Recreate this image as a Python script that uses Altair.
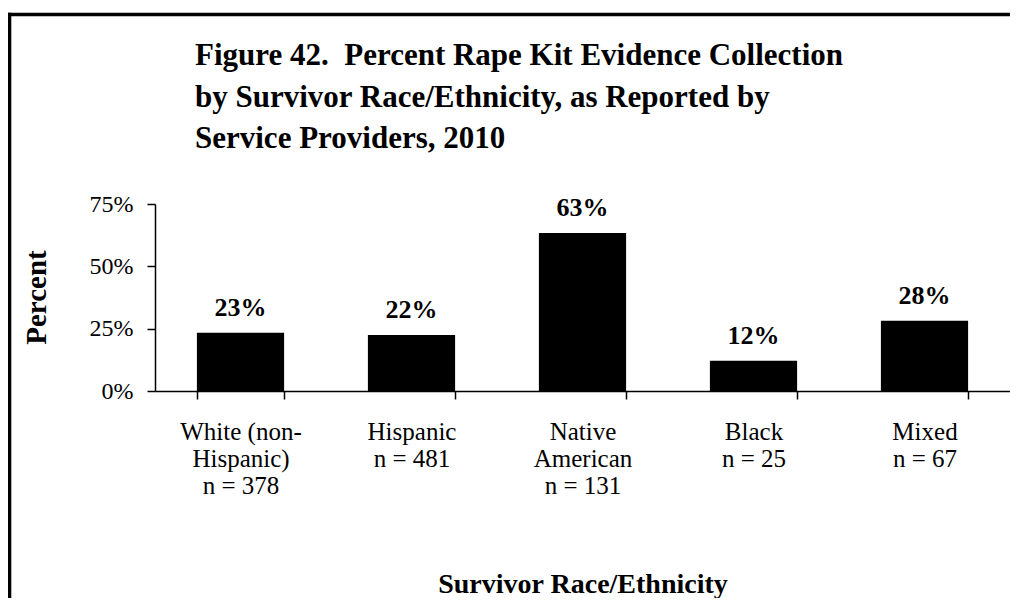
import altair as alt
import pandas as pd

categories = ["White (non-|Hispanic)|n = 378", "Hispanic|n = 481", "Native|American|n = 131", "Black|n = 25", "Mixed|n = 67"]
values = [23.4, 22.5, 63.4, 12.1, 28.2]
labels = ["23%", "22%", "63%", "12%", "28%"]
y_ticks = [0, 25, 50, 75]
title_lines = ["Figure 42.\u00a0 Percent Rape Kit Evidence Collection",
               "by Survivor Race/Ethnicity, as Reported by",
               "Service Providers, 2010"]

df = pd.DataFrame({"cat": categories, "val": values, "lab": labels})
FONT = "Liberation Serif"

x_enc = alt.X("cat:N", sort=categories,
              scale=alt.Scale(paddingInner=0.49, paddingOuter=0.245),
              axis=alt.Axis(title="Survivor Race/Ethnicity", labelAngle=0,
                            labelExpr="split(datum.label, '|')",
                            tickBand="extent", tickSize=8, tickWidth=1.5,
                            domainWidth=1.5, labelPadding=20,
                            labelFontSize=25, labelLineHeight=27,
                            titleFontSize=28, titleFontWeight="bold",
                            titleX=427.5, titleY=201, titleBaseline="alphabetic",
                            titleAlign="center"))
y_enc = alt.Y("val:Q", scale=alt.Scale(domain=[0, 75], nice=False),
              axis=alt.Axis(title="Percent", values=y_ticks,
                            labelExpr="datum.value + '%'", grid=False,
                            tickSize=8, tickWidth=1.5, domainWidth=1.5,
                            labelPadding=14, labelFontSize=24,
                            titleFontSize=29, titleFontWeight="bold",
                            titleX=-110, titleY=93, titleAngle=270,
                            titleAlign="center", titleBaseline="alphabetic"))

base = alt.Chart(df)
bars = base.mark_bar(color="black").encode(x=x_enc, y=y_enc)
text = base.mark_text(baseline="alphabetic", dy=-17, fontSize=26,
                      fontWeight="bold", font=FONT, color="black").encode(
    x=alt.X("cat:N", sort=categories), y="val:Q", text="lab:N")

one = alt.Data(values=[{"k": 1}])
title = alt.Chart(one).mark_text(align="left", baseline="alphabetic", fontSize=31,
                                 fontWeight="bold", font=FONT, color="black",
                                 lineHeight=41.5).encode(
    x=alt.value(40), y=alt.value(-139), text=alt.value(title_lines))
frame_v = alt.Chart(one).mark_rule(color="black", strokeWidth=4).encode(
    x=alt.value(-145.7), y=alt.value(-191.3), y2=alt.value(394))
frame_h = alt.Chart(one).mark_rule(color="black", strokeWidth=3.5).encode(
    y=alt.value(-189.6), x=alt.value(-147.7), x2=alt.value(855))

chart = alt.layer(bars, text, title, frame_v, frame_h).properties(
    width=855, height=187,
    autosize=alt.AutoSizeParams(type="none"),
    padding={"left": 147, "top": 196, "right": 0, "bottom": 207},
).configure(font=FONT).configure_axis(
    labelFont=FONT, titleFont=FONT, labelColor="black", titleColor="black",
    domainColor="black", tickColor="black"
).configure_view(stroke=None)

chart.save("out.html", embed_options={"renderer": "svg", "actions": False})
